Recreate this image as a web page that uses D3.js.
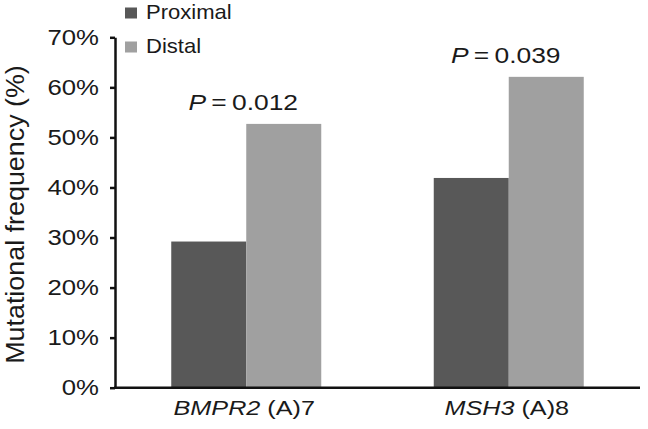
<!DOCTYPE html>
<html><head><meta charset="utf-8">
<script src="https://cdn.jsdelivr.net/npm/d3@7"></script>
<style>body{margin:0;background:#fff}svg{display:block}text{font-family:"Liberation Sans",Arial,sans-serif;fill:#1a1a1a}</style>
</head><body><svg id="c" width="648" height="429"></svg>
<script>
const categories = ["BMPR2", "MSH3"];
const categorySuffix = [" (A)7", " (A)8"];
const seriesNames = ["Proximal", "Distal"];
const proximal = [29.2, 41.9];
const distal = [52.7, 62.1];
const pValues = ["0.012", "0.039"];
const yTicks = [0, 10, 20, 30, 40, 50, 60, 70];
const colors = ["#585858", "#a0a0a0"];

const svg = d3.select("#c");
const m = {left:115, right:8, top:37.3, bottom:41.3};
const W = 648, H = 429;
const x0 = d3.scaleBand().domain(categories).range([m.left, W - m.right]);
const x1 = d3.scaleBand().domain(seriesNames).range([0, 150]);
const y = d3.scaleLinear().domain([0, 70]).range([H - m.bottom, m.top]);

function stext(parent, x, yy, sx, size, anchor) {
  return parent.append("text")
    .attr("transform", `translate(${x},${yy}) scale(${sx},1)`)
    .attr("text-anchor", anchor || "middle")
    .attr("font-size", size);
}

const data = categories.map((c, i) => ({cat:c, vals:[proximal[i], distal[i]]}));
const g = svg.append("g");
data.forEach((d, i) => {
  const cx = x0(d.cat) + x0.bandwidth()/2;
  d.vals.forEach((v, j) => {
    g.append("rect")
      .attr("x", cx - 75 + x1(seriesNames[j]))
      .attr("y", y(v))
      .attr("width", x1.bandwidth())
      .attr("height", y(0) - y(v))
      .attr("fill", colors[j]);
  });
  const t = stext(g, cx - 3, y(d.vals[1]) - 14, 1.2, 22);
  t.append("tspan").attr("font-style", "italic").text("P");
  t.append("tspan").text("\u2009=\u2009" + pValues[i]);
  const xl = stext(g, cx - 2, H - 14, 1.2, 21);
  xl.append("tspan").attr("font-style", "italic").text(d.cat);
  xl.append("tspan").text(categorySuffix[i]);
});

const yAxis = d3.axisLeft(y).tickValues(yTicks).tickFormat(d => d + "%").tickSize(5).tickSizeOuter(0);
const ya = svg.append("g").attr("transform", `translate(${m.left},0)`).call(yAxis);
ya.select(".domain").attr("stroke", "#111").attr("stroke-width", 2.5);
ya.selectAll(".tick line").attr("stroke", "#111").attr("stroke-width", 2.5);
ya.selectAll(".tick text").attr("font-size", 22).attr("x", -16 / 1.17).attr("transform", "scale(1.17,1)")
  .attr("fill", "#1a1a1a").attr("font-family", "Liberation Sans, Arial, sans-serif");

svg.append("line").attr("x1", m.left - 1).attr("x2", W - m.right).attr("y1", y(0)).attr("y2", y(0))
  .attr("stroke", "#111").attr("stroke-width", 2.5);

svg.append("text").attr("transform", `translate(24,${(y(0)+y(70))/2 + 2}) rotate(-90) scale(1.12,1.1)`)
  .attr("text-anchor", "middle").attr("font-size", 24).text("Mutational frequency (%)");

const leg = svg.append("g");
seriesNames.forEach((s, i) => {
  leg.append("rect").attr("x", 125).attr("y", 7.5 + i*34).attr("width", 12).attr("height", 11).attr("fill", colors[i]);
  stext(leg, 146, 18.5 + i*34.5, 1.05, 21, "start").text(s);
});
</script></body></html>
